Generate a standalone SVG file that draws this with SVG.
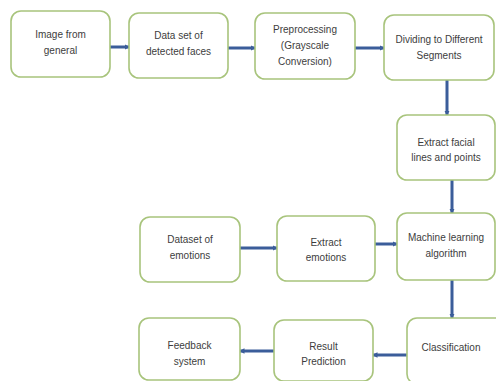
<svg xmlns="http://www.w3.org/2000/svg" width="496" height="381" viewBox="0 0 496 381">
<style>
.box{fill:#fff;stroke:#a8c47c;stroke-width:1.6}
.t{font-family:"Liberation Sans",Arial,sans-serif;font-size:10px;fill:#3d3d3d;text-anchor:middle}
.c{stroke:#3b5d9a;stroke-width:3;fill:none}
</style>
<defs>
<marker id="a" viewBox="0 0 6 6" refX="5" refY="3" markerWidth="1.8" markerHeight="1.8" orient="auto" markerUnits="strokeWidth">
<path d="M0,0 L6,3 L0,6 z" fill="#3b5d9a"/>
</marker>
</defs>
<rect width="496" height="381" fill="#fff"/>
<g id="connectors">
<path class="c" d="M110,47 H129" marker-end="url(#a)"/>
<path class="c" d="M228,48 H255" marker-end="url(#a)"/>
<path class="c" d="M355,48 H384" marker-end="url(#a)"/>
<path class="c" d="M447,80 V115" marker-end="url(#a)"/>
<path class="c" d="M452,180 V213" marker-end="url(#a)"/>
<path class="c" d="M240,248 H277" marker-end="url(#a)"/>
<path class="c" d="M375,244 H397" marker-end="url(#a)"/>
<path class="c" d="M452,280 V318" marker-end="url(#a)"/>
<path class="c" d="M407,355 H373" marker-end="url(#a)"/>
<path class="c" d="M274,351 H240" marker-end="url(#a)"/>
</g>
<g id="n1"><rect class="box" x="11" y="11" width="99" height="66" rx="10"/>
<text class="t" x="60.5" y="38">Image from</text><text class="t" x="60.5" y="54">general</text></g>
<g id="n2"><rect class="box" x="129" y="13" width="99" height="65" rx="10"/>
<text class="t" x="178.5" y="39">Data set of</text><text class="t" x="178.5" y="55">detected faces</text></g>
<g id="n3"><rect class="box" x="255" y="13" width="100" height="66" rx="10"/>
<text class="t" x="305" y="33">Preprocessing</text><text class="t" x="305" y="49">(Grayscale</text><text class="t" x="305" y="65">Conversion)</text></g>
<g id="n4"><rect class="box" x="384" y="15" width="110" height="65" rx="10"/>
<text class="t" x="439" y="43">Dividing to Different</text><text class="t" x="439" y="59">Segments</text></g>
<g id="n5"><rect class="box" x="397" y="115" width="98" height="65" rx="10"/>
<text class="t" x="446" y="145.5">Extract facial</text><text class="t" x="446" y="161">lines and points</text></g>
<g id="n6"><rect class="box" x="397" y="213" width="98" height="67" rx="10"/>
<text class="t" x="446" y="240.5">Machine learning</text><text class="t" x="446" y="256.5">algorithm</text></g>
<g id="n7"><rect class="box" x="140" y="217" width="100" height="65" rx="10"/>
<text class="t" x="190" y="242.5">Dataset of</text><text class="t" x="190" y="258.5">emotions</text></g>
<g id="n8"><rect class="box" x="277" y="216" width="98" height="65" rx="10"/>
<text class="t" x="326" y="245.5">Extract</text><text class="t" x="326" y="261">emotions</text></g>
<g id="n9"><rect class="box" x="139" y="318" width="101" height="62" rx="10"/>
<text class="t" x="189.5" y="348.5">Feedback</text><text class="t" x="189.5" y="364.5">system</text></g>
<g id="n10"><rect class="box" x="274" y="320" width="99" height="61" rx="10"/>
<text class="t" x="323.5" y="349.5">Result</text><text class="t" x="323.5" y="364.5">Prediction</text></g>
<g id="n11"><rect class="box" x="407" y="318" width="98" height="66" rx="10"/>
<text class="t" x="451" y="350.5">Classification</text></g>
</svg>
